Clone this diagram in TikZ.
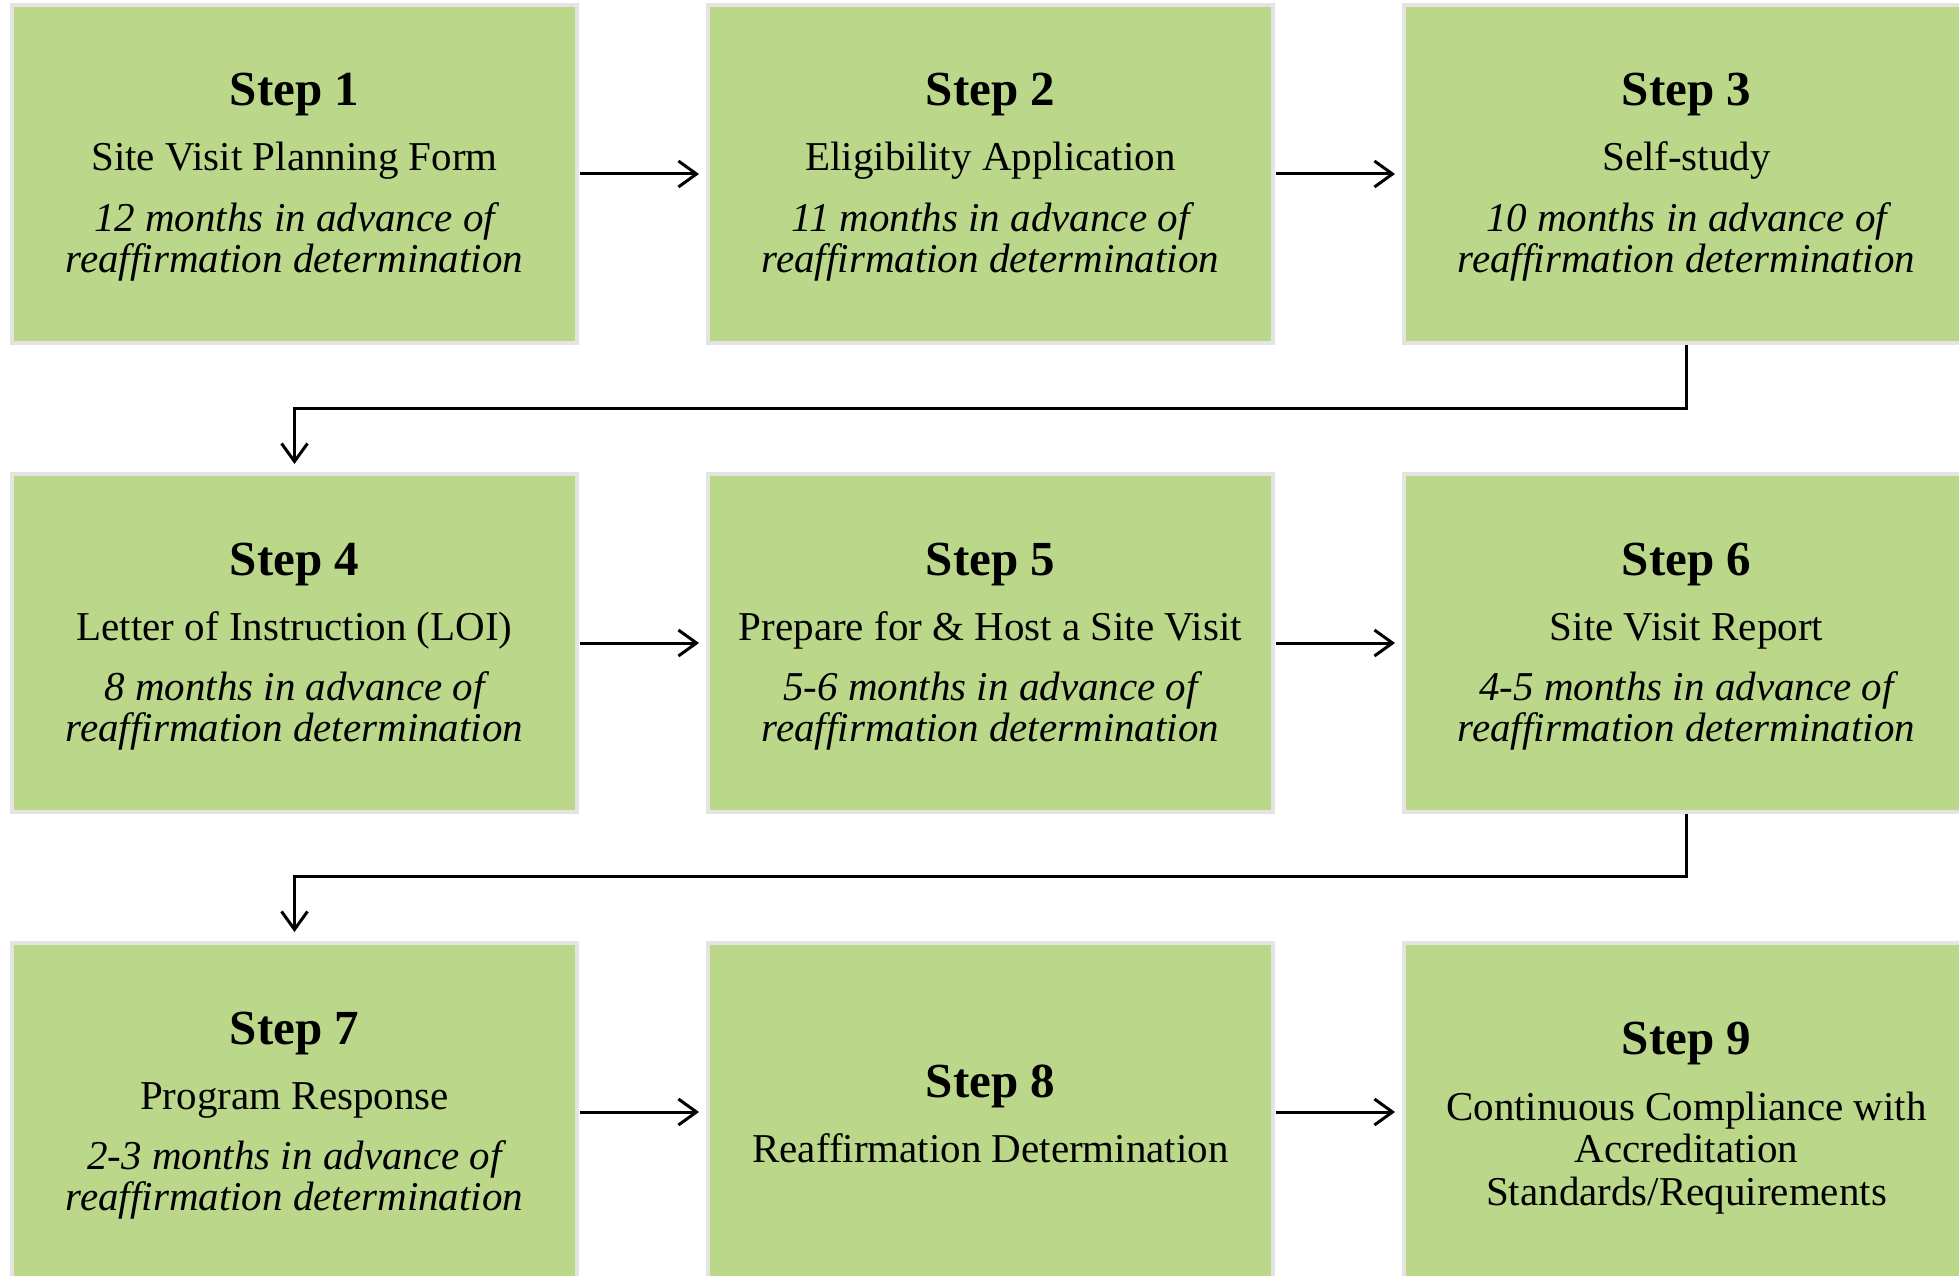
\documentclass[tikz,border=0pt]{standalone}
\usepackage{fontspec}
\setmainfont{Liberation Serif}
\usetikzlibrary{calc,arrows.meta}
\definecolor{boxgreen}{RGB}{186,215,138}
\definecolor{boxedge}{RGB}{228,228,228}
\tikzset{
  stepbox/.style={draw=boxedge, line width=4pt, fill=boxgreen, inner sep=0pt,
    minimum width=565pt, minimum height=338pt},
  ttl/.style={anchor=base, inner sep=0pt, font=\fontsize{49}{49}\selectfont\bfseries},
  sub/.style={anchor=base, inner sep=0pt, font=\fontsize{41}{41}\selectfont},
  itl/.style={anchor=base, inner sep=0pt, font=\fontsize{41}{41}\selectfont\itshape},
  conn/.style={line width=3pt, -{Straight Barb[length=18pt,width=26pt,line width=3pt]}}
}
\newcommand{\fullbox}[6]{%
  \node[stepbox] (#1) at (#2) {};
  \node[ttl] (#1h) at ($(#1.center)+(0,-68)$) {#3};
  \node[sub] (#1a) at ($(#1.center)+(0,-3)$) {#4};
  \node[itl] (#1b) at ($(#1.center)+(0,57)$) {#5};
  \node[itl] (#1c) at ($(#1.center)+(0,98)$) {#6};
}
\begin{document}
\begin{tikzpicture}[x=1pt,y=-1pt]
\useasboundingbox[fill=white] (0,0) rectangle (1959,1276);
% row 1
\fullbox{s1}{294.5,174}{Step 1}{Site Visit Planning Form}{12 months in advance of}{reaffirmation determination}
\fullbox{s2}{990.5,174}{Step 2}{Eligibility Application}{11 months in advance of}{reaffirmation determination}
\fullbox{s3}{1686.5,174}{Step 3}{Self-study}{10 months in advance of}{reaffirmation determination}
% row 2
\fullbox{s4}{294.5,643}{Step 4}{Letter of Instruction (LOI)}{8 months in advance of}{reaffirmation determination}
\fullbox{s5}{990.5,643}{Step 5}{Prepare for \& Host a Site Visit}{5-6 months in advance of}{reaffirmation determination}
\fullbox{s6}{1686.5,643}{Step 6}{Site Visit Report}{4-5 months in advance of}{reaffirmation determination}
% row 3
\fullbox{s7}{294.5,1112}{Step 7}{Program Response}{2-3 months in advance of}{reaffirmation determination}
\node[stepbox] (s8) at (990.5,1112) {};
\node[ttl] (s8h) at ($(s8.center)+(0,-15)$) {Step 8};
\node[sub] (s8a) at ($(s8.center)+(0,50)$) {Reaffirmation Determination};
\node[stepbox] (s9) at (1686.5,1112) {};
\node[ttl] (s9h) at ($(s9.center)+(0,-58)$) {Step 9};
\node[sub] (s9a) at ($(s9.center)+(0,8)$) {Continuous Compliance with};
\node[sub] (s9b) at ($(s9.center)+(0,50)$) {Accreditation};
\node[sub] (s9c) at ($(s9.center)+(0,93)$) {Standards/Requirements};
% connectors
\draw[conn, shorten <=1pt, shorten >=7pt] (s1.east) -- (s2.west);
\draw[conn, shorten <=1pt, shorten >=7pt] (s2.east) -- (s3.west);
\draw[conn, shorten <=1pt, shorten >=7pt] (s4.east) -- (s5.west);
\draw[conn, shorten <=1pt, shorten >=7pt] (s5.east) -- (s6.west);
\draw[conn, shorten <=1pt, shorten >=7pt] (s7.east) -- (s8.west);
\draw[conn, shorten <=1pt, shorten >=7pt] (s8.east) -- (s9.west);
\draw[conn, shorten >=8pt] (s3.south) -- ++(0,63) -| (s4.north);
\draw[conn, shorten >=9pt] (s6.south) -- ++(0,62) -| (s7.north);
\end{tikzpicture}
\end{document}
